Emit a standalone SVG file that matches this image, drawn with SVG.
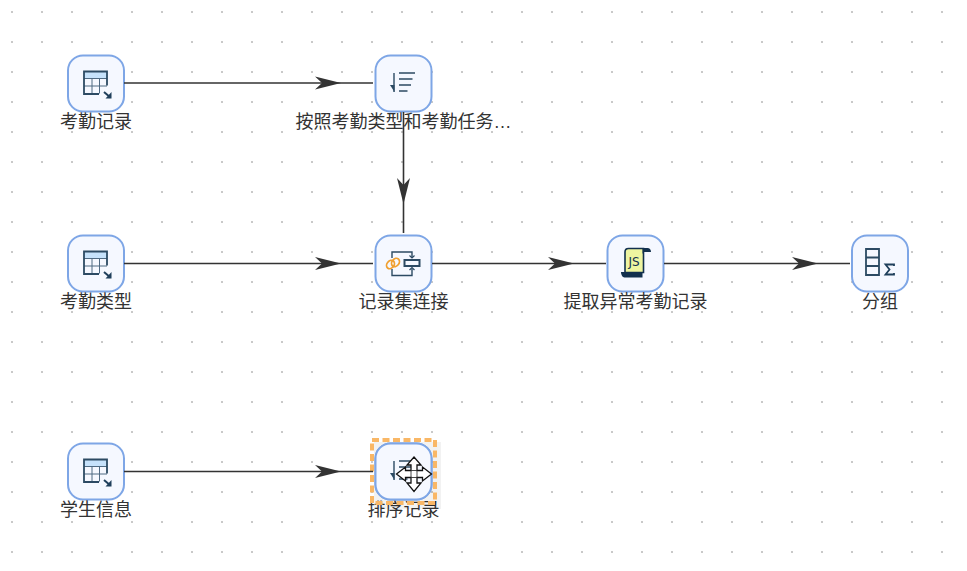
<svg xmlns="http://www.w3.org/2000/svg" width="967" height="571" viewBox="0 0 967 571">
<style>
text{font-family:"Noto Sans CJK SC","Noto Sans",sans-serif;font-size:18px;fill:#333;text-anchor:middle}
.box{fill:#f5f8ff;stroke:#7ea6e6;stroke-width:2}
.c{fill:none;stroke:#333;stroke-width:1.600}
.i{fill:none;stroke:#2c4a63;stroke-width:1.400}
.t{fill:none;stroke:#2c4a63;stroke-width:1.800}
.g{fill:none;stroke:#4f6a82;stroke-width:1}
</style>
<defs>
<pattern id="dots" width="30" height="30" patternUnits="userSpaceOnUse"><rect x="11" y="11" width="2" height="2" fill="#c9c9c9"/></pattern>
<path id="ah" d="M-26-6.500L0 0L-26 6.500L-19 0Z" fill="#333"/>
<rect id="b" x="-28" y="-28" width="56" height="56" rx="15" class="box"/>
<g id="table">
<rect x="-12" y="-12" width="23" height="7" fill="#c6e2fb"/>
<path class="g" d="M-12-5H11M-12 2.500H11M-4-5V10M3.500-5V10"/>
<path class="t" d="M11 2V-12H-12V10.500H3"/>
<path d="M8 8.500L14.500 14" fill="none" stroke="#1f3f5b" stroke-width="2"/><path d="M15.500 8.500V15H9.500Z" fill="#1f3f5b"/>
</g>
<g id="sort"><path d="M-9.500-10.500V8.500" stroke="#2c4a63" stroke-width="1.400" fill="none"/><path d="M-13.500 1.500L-9 8.500V1.500Z" fill="#2c4a63"/><path d="M-4.500-10.500H11.500M-4.500-4.500H9M-4.500 1.500H7.500M-4.500 7.500H4" stroke="#2c4a63" stroke-width="1.700" fill="none"/></g>
</defs>
<rect width="967" height="571" fill="#fff"/>
<rect width="967" height="571" fill="url(#dots)"/>
<g id="n1" transform="translate(96 83.500)"><use href="#b"/><use href="#table"/></g>
<text x="96" y="128">考勤记录</text>
<g id="n2" transform="translate(403.500 83.500)"><use href="#b"/><use href="#sort"/></g>
<text x="403.500" y="128">按照考勤类型和考勤任务<tspan style="font-family:'Liberation Sans',sans-serif">…</tspan></text>
<g id="n3" transform="translate(96 263.500)"><use href="#b"/><use href="#table"/></g>
<text x="96" y="308">考勤类型</text>
<g id="n4" transform="translate(403.500 263.500)"><use href="#b"/>
<path class="i" d="M-11.500-5.500V-11.500H8.500V-6M-11.500 5.500V12H8.500V5"/>
<path d="M6-8L8.500-5.500L11-8M6 6.500L8.500 4L11 6.500" fill="none" stroke="#2c4a63" stroke-width="1.200"/>
<rect x="1" y="-3.500" width="15" height="6" fill="none" stroke="#2c4a63" stroke-width="2"/>
<ellipse cx="-13" cy="1" rx="3.500" ry="4.500" transform="rotate(40 -13 1)" fill="none" stroke="#f0a030" stroke-width="1.800"/><ellipse cx="-8" cy="-1" rx="3.500" ry="4.500" transform="rotate(40 -8 -1)" fill="none" stroke="#f0a030" stroke-width="1.800"/>
</g>
<text x="403.500" y="308">记录集连接</text>
<g id="n5" transform="translate(635.500 263.500)"><use href="#b"/>
<path d="M-7-15H8V9H-10.500V-11.500C-10.500-14 -9-15 -7-15Z" fill="#eef5a0" stroke="#12304d" stroke-width="1.600"/>
<path d="M7-15.500H12C14-15.500 15.500-14 15.500-11.500H8V-10H7ZM-14.500 8.500H7V14H-11C-13 14-14.500 11-14.500 8.500Z" fill="#12304d"/>
<text x="-1.500" y="2.500" style="font-family:'DejaVu Sans',sans-serif;font-size:12px;fill:#12304d">JS</text>
</g>
<text x="635.500" y="308">提取异常考勤记录</text>
<g id="n6" transform="translate(880 263.500)"><use href="#b"/>
<path class="t" d="M-14-14.500H-1V11.500H-14ZM-14-6H-1M-14 2.500H-1"/>
<path d="M14 2.500V1H5.500L9.500 6L5.500 11H14V9.500" fill="none" stroke="#1f3f5b" stroke-width="1.800"/>
</g>
<text x="880" y="308">分组</text>
<g id="n7" transform="translate(96 471.500)"><use href="#b"/><use href="#table"/></g>
<text x="96" y="516">学生信息</text>
<g id="n8" transform="translate(403.500 471.500)"><use href="#b"/><use href="#sort"/></g>
<text x="403.500" y="516">排序记录</text>
<g id="selection">
<rect x="374" y="442" width="67" height="67" fill="#000" opacity=".05"/>
<rect x="372" y="440" width="63" height="63" fill="none" stroke="#f9b766" stroke-width="4" stroke-dasharray="7 3.500"/>
<use href="#b" x="403.500" y="471.500"/><use href="#sort" x="403.500" y="471.500"/>
</g>
<g id="connectors">
<path class="c" d="M124 83H373"/><use href="#ah" x="341" y="83"/>
<path class="c" d="M403.500 112V233"/><use href="#ah" transform="translate(403.500 204) rotate(90)"/>
<path class="c" d="M124 263.500H373"/><use href="#ah" x="341" y="263.500"/>
<path class="c" d="M432 263.500H606"/><use href="#ah" x="574" y="263.500"/>
<path class="c" d="M664 263.500H850"/><use href="#ah" x="818" y="263.500"/>
<path class="c" d="M124 471.500H373"/><use href="#ah" x="341" y="471.500"/>
</g>
<path id="cursor" d="M414 457L421 465H417V470.500H422.500V467L431.500 474L422.500 481V477.500H417V483H421L414 491.500L407 483H411V477.500H405.500V481L396.500 474L405.500 467V470.500H411V465H407Z" fill="#fff" stroke="#111" stroke-width="1.300" stroke-linejoin="miter"/>
<path d="M411 470.500V477.500M417 470.500V477.500M411 470.500H417M411 477.500H417" fill="none" stroke="#333" stroke-width=".9"/>
</svg>
